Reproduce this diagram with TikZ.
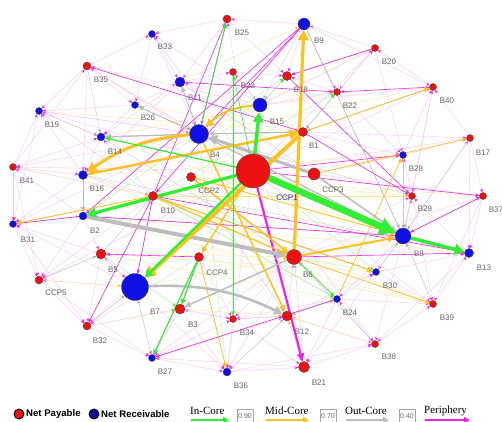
\documentclass[tikz,border=0pt]{standalone}
\usepackage{fontspec}
\setmainfont{Liberation Sans}
\newfontfamily\serifl{Liberation Serif}
\usetikzlibrary{arrows.meta}
\pgfdeclarelayer{faintlayer}
\pgfdeclarelayer{bg}
\pgfsetlayers{faintlayer,bg,main}
\definecolor{nred}{HTML}{EE1111}
\definecolor{nblue}{HTML}{1010E6}
\definecolor{cGreen}{HTML}{33EE33}
\definecolor{cOrange}{HTML}{FFC022}
\definecolor{cGray}{HTML}{BDBDBD}
\definecolor{cMag}{HTML}{EE22EE}
\definecolor{ccpblue}{HTML}{2233AA}
\begin{document}
\begin{tikzpicture}[x=1pt,y=-1pt,
  nd/.style={circle,draw=black!70,line width=0.4pt,inner sep=0pt,minimum size=#1},
  lab/.style={font=\fontsize{8}{8}\selectfont,text=black!60,inner sep=0pt},
  faint/.style={draw=cMag!28,line width=0.35pt,-{Stealth[length=3.5pt,width=3pt,color=cMag]}},
  faintO/.style={draw=cOrange!45,line width=0.35pt,-{Stealth[length=3.5pt,width=3pt,color=cOrange]}},
  faintG/.style={draw=black!22,line width=0.35pt,-{Stealth[length=3.5pt,width=3pt,color=black!35]}},
  faintL/.style={draw=cGreen!45,line width=0.35pt,-{Stealth[length=3.5pt,width=3pt,color=cGreen]}},
  core/.style n args={4}{draw=#1,line width=#2,-{Triangle[length=#3,width=#4]}},
  pe/.style={draw=cMag,line width=#1,-{Stealth[length=4pt,width=3.5pt]}},
  pe/.default=0.6pt,
  legt/.style={font=\serifl\fontsize{11}{11}\selectfont,anchor=west,inner sep=0pt},
  legb/.style={draw=black!35,font=\fontsize{7}{7}\selectfont,text=black!60,minimum width=16pt,minimum height=13pt,inner sep=0pt},
  legc/.style={circle,draw=black,line width=0.9pt,inner sep=0pt,minimum size=10pt},
  legn/.style={font=\bfseries\fontsize{9.6}{10}\selectfont,anchor=west,inner sep=0pt}
]
\useasboundingbox (0,0) rectangle (502,421);

% nodes
\foreach \nn/\xx/\yy/\dd/\cc/\lx/\ly in {
 B25/227/19/8/nred/242/33, B33/152/34/7/nblue/165/47, B35/87/66/8/nred/101/80,
 B11/180/82/10/nblue/195/98, B23/233/72/7/nred/248/86, B26/135/105/7/nblue/148/118,
 B19/39/111/7/nblue/52/125, B14/101/137/8/nblue/115/152, B4/199/134/19/nblue/215/155,
 B41/13/167/7/nred/27/181, B16/83/175/9/nblue/97/189, B9/304/24/12/nblue/319/41,
 B20/375/48/7/nred/389/62, B18/287/76/9/nred/301/90, B22/337/92/7/nred/350/106,
 B40/433/87/7/nred/447/101, B15/260/105/14/nblue/277/122, B1/303/132/9/nred/314/146,
 B17/470/138/7/nred/483/153, B28/403/155/7/nblue/416/169, CCP3/314/174/12/nred/333/190,
 CCP2/191/177/9/nred/209/191, B10/153/196/9/nred/168/211,
 B29/412/196/7/nred/425/209, B37/483/196/7/nred/496/210, B31/13/224/7/nblue/28/240,
 B2/83/216/8/nblue/95/231, B8/403/236/16/nblue/419/254, B13/469/253/9/nblue/484/268,
 B5/101/254/10/nred/113/270, CCP4/199/257/9/nred/217/273, B6/294/257/15/nred/308/275,
 B30/376/272/7/nblue/390/286, CCP5/39/280/8/nred/56/293, B7/135/287/27/nblue/155/312,
 B3/180/309/10/nred/193/325, B24/337/299/7/nblue/350/313, B34/233/319/7/nred/247/333,
 B39/433/304/7/nred/447/318, B12/287/316/10/nred/302/332, B32/87/326/8/nred/100/341,
 B38/375/344/7/nred/389/357, B27/152/358/7/nblue/165/372, B36/227/372/8/nblue/241/386,
 B21/304/367/11/nred/319/383}
{
  \node[nd=\dd pt,fill=\cc] (\nn) at (\xx,\yy) {};
  \node[lab] (l\nn) at (\lx,\ly) {\nn};
}
\node[nd=34pt,fill=nred] (CCP1) at (253,171) {};
\node[lab,text=ccpblue] (lCCP1) at (287,198) {CCP1};

% faint background edges
\begin{pgfonlayer}{faintlayer}
\foreach \a/\b in {B33/B4, B33/B11, B35/B26, B35/B16, B41/B35, B19/B4, B19/B14, B26/B19, B41/B16,
 B41/B14, B16/B10, B26/B14, B26/B11, B25/B11, B11/B23, B9/B25, B25/B18, B20/B9, B9/B18, B40/B20,
 B20/B22, B22/B18, B22/B1, B17/B40, B28/B40, B28/B17, B17/B37, B29/B28, B37/B13, B8/B29, B39/B13,
 B30/B39, B38/B39, B24/B30, B38/B24, B21/B38, B36/B21, B34/B36, B12/B34, B27/B36, B32/B27, CCP5/B32,
 B31/CCP5, B41/B31, B5/CCP5, B5/B32, B3/B27, B34/B3, B3/B36, B24/B21, B12/B38, B24/B39, B30/B13,
 B8/B37, B13/B29, B8/B17, B8/B40, B1/B20, B35/B33, B41/B19, B16/B31, B2/CCP5, B7/B32, B7/B27, B7/B36,
 B6/B38, B6/B39, B6/B37, B1/B17, B15/B40, B15/B20, B15/B33, B15/B35, B10/B19, B2/B41, B5/B31,
 B10/CCP5, CCP4/B32, CCP4/B27, B12/B36, B30/B21, B8/B38, B8/B39, CCP3/B37, CCP3/B28, B1/B40,
 B25/B33, B4/B26, B16/B19, B24/B12, B24/B34, B12/B30, CCP1/B33, CCP1/B19, CCP1/B41, CCP1/CCP5,
 CCP1/B32, CCP1/B27, CCP1/B36, CCP1/B38, CCP1/B39, CCP1/B17, CCP1/B20, CCP1/B40, CCP1/B25, CCP1/B35,
 B4/B41, B4/B31, B4/B19, B4/B35, B6/B27, B6/B36, B6/B34, B6/B29, B8/B28, B8/B30, B8/B24,
 B7/CCP5, B7/B31, B7/B5, B10/B41, B10/B14, B15/B11, B15/B23, B15/B18, B15/B22, B1/B28, B1/B22,
 B12/B21, B12/B24, B21/B27, B27/B34, B9/B22, B9/B40, B20/B28, B22/B28, B40/B29, B37/B39, B13/B38,
 B17/B13, B29/B39, B31/B32, B19/B31, B35/B19, B33/B26, B23/B18, B11/B14, B11/B16, B2/B5, B5/B7,
 B3/B34, CCP4/B34, B34/B21, B36/B38, B27/B12, B32/B3, CCP5/B27, B41/CCP5, B16/B2, B14/B16}
 {\draw[faint] (\a) -- (\b);}
\foreach \a/\b in {B4/B20, B4/B40, CCP2/B29, B10/B29, B5/B6, B7/B6, B16/B6, B14/B8, B2/B39,
 B5/B24, B3/B12, CCP4/B39, B10/B28, B11/B1, B26/B1, B19/B1, B41/B10, B31/B10, CCP5/B7, B32/B3,
 B38/B12, B21/B12, B2/B13, B16/B28, B14/B22, B11/B9, B35/B4, CCP2/B37, B10/B39, B5/B30}
 {\draw[faintO] (\a) -- (\b);}
\foreach \a/\b in {B11/B4, B14/B4, B26/B4, B2/B10, B5/B10, B7/B10, B3/CCP4, B12/B6, B24/B6,
 B30/B8, B29/B8, B28/B8, B18/B15, B23/B15, B22/B1, B9/B15, B25/B4, B34/B12, B36/B12,
 B27/B7, B32/B7, CCP5/B5, B31/B2, B19/B14, B35/B14, B20/B18, B40/B1, B17/B8, B37/B8, B39/B8,
 B38/B6, B21/B6, B4/B29, B10/B24, B2/B8, B16/B13, CCP2/B12, B11/B8, B14/B6}
 {\draw[faintG] (\a) -- (\b);}
\foreach \a/\b in {B4/B18, B10/B22, B6/B30, B1/B22, B12/B24, CCP2/B6, B4/B2, B15/B18,
 B10/B24, B5/B3, B4/B36, CCP1/B30}
 {\draw[faintL] (\a) -- (\b);}
\end{pgfonlayer}

% main edges
\begin{pgfonlayer}{bg}
% periphery (magenta)
\draw[pe] (B1) -- (B35);
\draw[pe] (B25) -- (B4);
\draw[pe] (B10) -- (B25);
\draw[pe] (B9) -- (B2);
\draw[pe] (B9) -- (B4);
\draw[pe] (B8) -- (B2);
\draw[pe] (B2) -- (B31);
\draw[pe] (B10) -- (B32);
\draw[pe] (CCP4) -- (B5);
\draw[pe] (B10) -- (B13);
\draw[pe] (CCP1) -- (B37);
\draw[pe] (B40) -- (B22);
\draw[pe] (B20) -- (B18);
\draw[pe] (B6) -- (B13);
\draw[pe] (B37) -- (B8);
\draw[pe] (B24) -- (B27);
\draw[pe] (CCP1) -- (B28);
\draw[pe] (B1) -- (B29);
\draw[pe] (B18) -- (B29);
\draw[pe] (B10) -- (B7);
\draw[pe] (B11) -- (B22);
\draw[pe] (B6) -- (B8);
\draw[pe] (B9) -- (B10);
\draw[pe=2.2pt,-{Triangle[length=8pt,width=7pt]}] (CCP1) -- (B21);
% out-core (gray)
\draw[core={cGray}{4pt}{10pt}{11pt}] (B2) -- (B6);
\draw[core={cGray}{3pt}{9pt}{10pt}] (CCP3) -- (B4);
\draw[core={cGray}{2.6pt}{8pt}{9pt}] (B7) to[bend left=14] (B12);
\draw[core={cGray}{1.6pt}{6pt}{6pt}] (CCP3) -- (B8);
\draw[core={cGray}{1.3pt}{6pt}{6pt}] (B4) -- (B8);
\draw[core={cGray}{1.3pt}{6pt}{6pt}] (B4) -- (B14);
\draw[core={cGray}{0.9pt}{5pt}{5pt}] (B4) -- (B26);
\draw[core={cGray}{1.5pt}{6pt}{6pt}] (B6) -- (B3);
\draw[core={cGray}{1pt}{5pt}{5pt}] (CCP4) -- (B3);
\draw[core={cGray}{1pt}{5pt}{5pt}] (B16) -- (B2);
\draw[core={cGray}{0.9pt}{5pt}{5pt}] (B4) -- (B11);
\draw[core={cGray}{0.7pt}{4pt}{4pt}] (B9) -- (B8);
\draw[core={cGray}{0.9pt}{5pt}{5pt}] (B10) -- (B30);
\draw[core={cGray}{1.2pt}{5pt}{5pt}] (B1) -- (B4);
% mid-core (orange)
\draw[core={cOrange}{4pt}{11pt}{12pt}] (B1) -- (B7);
\draw[core={cOrange}{3.2pt}{10pt}{11pt}] (B6) -- (B9);
\draw[core={cOrange}{3pt}{10pt}{11pt}] (B4) to[bend right=15] (B16);
\draw[core={cOrange}{2.4pt}{9pt}{10pt}] (B16) -- (B1);
\draw[core={cOrange}{2pt}{8pt}{8pt}] (B15) to[bend right=20] (B4);
\draw[core={cOrange}{1.6pt}{6pt}{6pt}] (CCP2) -- (B6);
\draw[core={cOrange}{1.2pt}{5pt}{5pt}] (B10) -- (B6);
\draw[core={cOrange}{1.5pt}{6pt}{6pt}] (B4) -- (B12);
\draw[core={cOrange}{2pt}{7pt}{7pt}] (B6) -- (B8);
\draw[core={cOrange}{0.9pt}{5pt}{5pt}] (CCP2) -- (B8);
\draw[core={cOrange}{0.8pt}{5pt}{5pt}] (B1) -- (B40);
\draw[core={cOrange}{0.8pt}{5pt}{5pt}] (CCP4) -- (B36);
\draw[core={cOrange}{0.8pt}{5pt}{5pt}] (B10) -- (B31);
\draw[core={cOrange}{0.7pt}{4pt}{4pt}] (CCP3) -- (B17);
\draw[core={cOrange}{0.7pt}{4pt}{4pt}] (B6) -- (B39);
\draw[core={cOrange}{0.7pt}{4pt}{4pt}] (B24) -- (B28);
\draw[core={cOrange}{1.4pt}{6pt}{6pt}] (CCP1) -- (CCP4);
\draw[core={cOrange}{0.8pt}{5pt}{5pt}] (B10) -- (B30);
% in-core (green)
\draw[core={cGreen}{6.5pt}{16pt}{17pt}] (CCP1) -- (B8);
\draw[core={cGreen}{3.5pt}{10pt}{11pt}] (B8) -- (B13);
\draw[core={cGreen}{3.5pt}{10pt}{10pt}] (CCP1) -- (B15);
\draw[core={cGreen}{3.2pt}{9pt}{10pt}] (CCP1) -- (B2);
\draw[core={cGreen}{2.4pt}{8pt}{9pt}] (CCP1) -- (B7);
\draw[core={cGreen}{1.2pt}{5pt}{5pt}] (CCP1) -- (B14);
\draw[core={cGreen}{0.8pt}{5pt}{5pt}] (B4) -- (B25);
\draw[core={cGreen}{1.2pt}{5pt}{5pt}] (CCP4) -- (B27);
\draw[core={cGreen}{1pt}{5pt}{5pt}] (CCP4) -- (B3);
\draw[core={cGreen}{0.7pt}{4pt}{4pt}] (B6) -- (B24);
\draw[core={cGreen}{0.6pt}{4pt}{4pt}] (B23) -- (B34);
\draw[core={cGreen}{0.6pt}{4pt}{4pt}] (CCP1) -- (B23);
\end{pgfonlayer}

% legend
\node[legc,fill=nred] (lgR) at (19,414) {};
\node[legn] (lgRt) at (26,414) {Net Payable};
\node[legc,fill=nblue!70!black] (lgB) at (94,414) {};
\node[legn] (lgBt) at (101,414) {Net Receivable};
\node[legt] (lgIn) at (190,411) {In-Core};
\node[legb] (bx1) at (245,416) {0.90};
\node[legt] (lgMid) at (265,411) {Mid-Core};
\node[legb] (bx2) at (328,416) {0.70};
\node[legt] (lgOut) at (345,411) {Out-Core};
\node[legb] (bx3) at (407,416) {0.40};
\node[legt] (lgPer) at (424,411) {Periphery};
\coordinate (a1) at (191,420); \coordinate (a2) at (229,420);
\coordinate (b1) at (266,420); \coordinate (b2) at (309,420);
\coordinate (c1) at (346,420); \coordinate (c2) at (389,420);
\coordinate (d1) at (425,420); \coordinate (d2) at (470,420);
\draw[core={cGreen}{2pt}{6pt}{6pt}] (a1) -- (a2);
\draw[core={cOrange}{2pt}{6pt}{6pt}] (b1) -- (b2);
\draw[core={cGray}{2pt}{6pt}{6pt}] (c1) -- (c2);
\draw[core={cMag}{2pt}{6pt}{6pt}] (d1) -- (d2);
\end{tikzpicture}
\end{document}
